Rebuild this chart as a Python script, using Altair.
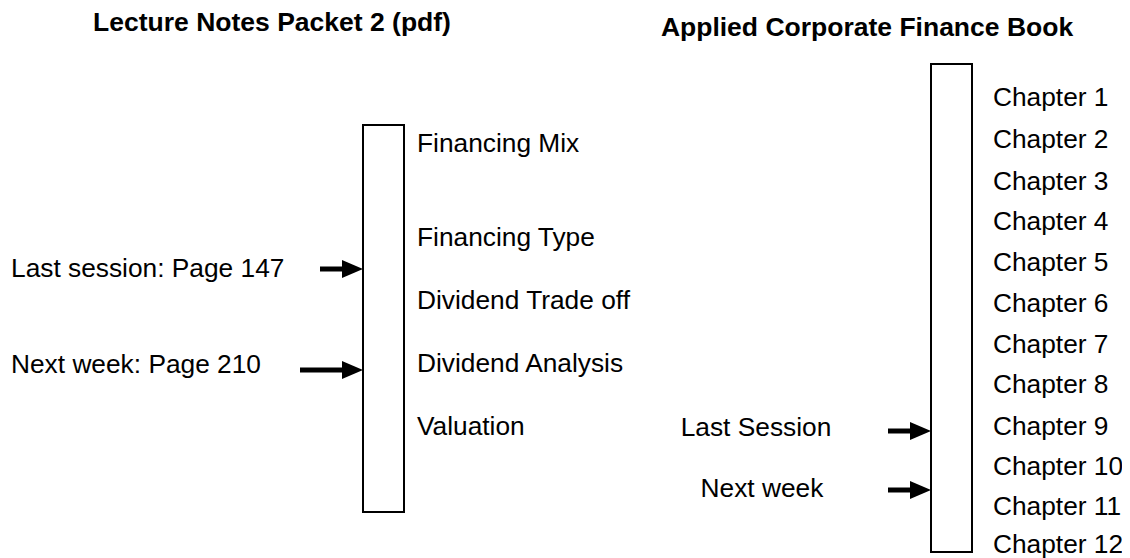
import altair as alt
import pandas as pd

# ---- content ----
left_title = "Lecture Notes Packet 2 (pdf)"
right_title = "Applied Corporate Finance Book"

left_topics = ["Financing Mix", "Financing Type", "Dividend Trade off",
               "Dividend Analysis", "Valuation"]
left_markers = ["Last session: Page 147", "Next week: Page 210"]

chapters = ["Chapter 1", "Chapter 2", "Chapter 3", "Chapter 4", "Chapter 5",
            "Chapter 6", "Chapter 7", "Chapter 8", "Chapter 9", "Chapter 10",
            "Chapter 11", "Chapter 12"]
right_markers = ["Last Session", "Next week"]

# ---- layout (diagram coordinates, pixels of the 1130x558 canvas) ----
title_x = [272, 867]
title_y = [23, 28]
left_topic_y = [144, 238, 301, 364, 427]
left_marker_y = [269, 365]
left_arrow_y = [269, 370]
left_arrow_x0 = [320, 300]
chapter_y = [98, 140, 182, 222, 263, 304, 345, 385, 427, 467, 507, 545]
right_marker_x = [756, 762]
right_marker_y = [428, 489]
right_arrow_y = [431, 490]
right_arrow_x0 = [888, 888]
boxes = {"x": [363, 931], "x2": [404, 972], "y": [125, 64], "y2": [512, 552]}

FONT = "Liberation Sans"
FS = 26.3
X = alt.Scale(domain=[8, 1122], nice=False, zero=False)
Y = alt.Scale(domain=[8, 558], nice=False, zero=False, reverse=True)


def xy(xf="x", yf="y"):
    return dict(x=alt.X(f"{xf}:Q", scale=X, axis=None),
                y=alt.Y(f"{yf}:Q", scale=Y, axis=None))


titles = pd.DataFrame({"label": [left_title, right_title], "x": title_x, "y": title_y})
topics = pd.DataFrame({"label": left_topics, "x": [417] * len(left_topics), "y": left_topic_y})
lmark = pd.DataFrame({"label": left_markers, "x": [11, 11], "y": left_marker_y})
chaps = pd.DataFrame({"label": chapters, "x": [993] * len(chapters), "y": chapter_y})
rmark = pd.DataFrame({"label": right_markers, "x": right_marker_x, "y": right_marker_y})
box_df = pd.DataFrame(boxes)

tips = [363, 363, 931, 931]
arrows = pd.DataFrame({
    "x": left_arrow_x0 + right_arrow_x0,
    "tip": tips,
    "y": left_arrow_y + right_arrow_y,
})
arrows["shaft_end"] = arrows["tip"] - 14
arrows["head"] = arrows["tip"] - 10.5

title_layer = alt.Chart(titles).mark_text(
    font=FONT, fontSize=26.5, fontWeight="bold", align="center", baseline="middle", color="black"
).encode(text="label:N", **xy())

box_layer = alt.Chart(box_df).mark_rect(
    fill="white", stroke="black", strokeWidth=2
).encode(x=alt.X("x:Q", scale=X, axis=None), x2="x2:Q",
         y=alt.Y("y:Q", scale=Y, axis=None), y2="y2:Q")

topic_layer = alt.Chart(topics).mark_text(
    font=FONT, fontSize=FS, align="left", baseline="middle", color="black"
).encode(text="label:N", **xy())

lmark_layer = alt.Chart(lmark).mark_text(
    font=FONT, fontSize=FS, align="left", baseline="middle", color="black"
).encode(text="label:N", **xy())

chap_layer = alt.Chart(chaps).mark_text(
    font=FONT, fontSize=FS, align="left", baseline="middle", color="black"
).encode(text="label:N", **xy())

rmark_layer = alt.Chart(rmark).mark_text(
    font=FONT, fontSize=FS, align="center", baseline="middle", color="black"
).encode(text="label:N", **xy())

shaft_layer = alt.Chart(arrows).mark_rule(color="black", strokeWidth=5).encode(
    x=alt.X("x:Q", scale=X, axis=None), x2="shaft_end:Q",
    y=alt.Y("y:Q", scale=Y, axis=None))

head_layer = alt.Chart(arrows).mark_point(
    shape="M -1 -0.85 L 1 0 L -1 0.85 Z", filled=True, color="black",
    size=441, opacity=1, strokeWidth=0
).encode(**xy("head", "y"))

chart = alt.layer(
    box_layer, shaft_layer, head_layer, title_layer, topic_layer,
    lmark_layer, chap_layer, rmark_layer
).properties(
    width=1114, height=550, padding=0, autosize="none", background="white"
).configure_view(strokeWidth=0)

chart.save("out.html", embed_options={"renderer": "svg", "actions": False})
